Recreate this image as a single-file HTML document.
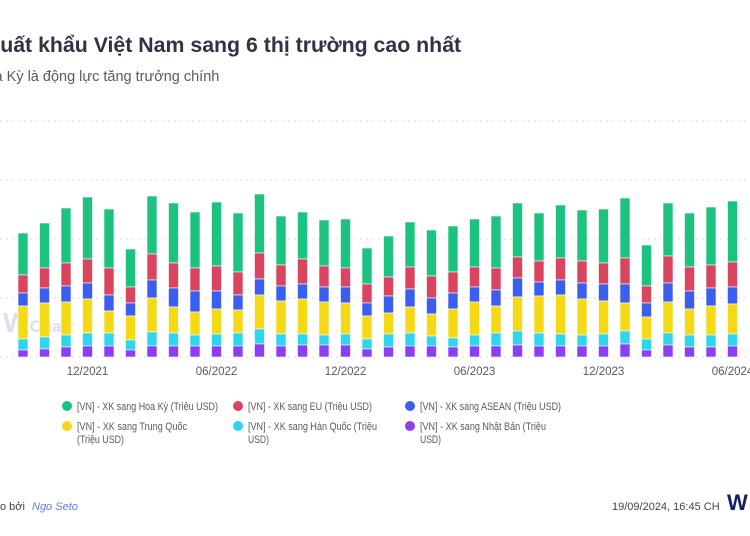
<!DOCTYPE html>
<html><head><meta charset="utf-8">
<style>
html,body{margin:0;padding:0;background:#fff;width:750px;height:536px;overflow:hidden;font-family:"Liberation Sans","Noto Sans CJK SC",sans-serif;}
.t{position:absolute;white-space:nowrap;}
</style></head><body>
<div class="t" style="left:-14px;top:33px;font-size:21.3px;font-weight:bold;color:#2f3343;">Xuất khẩu Việt Nam sang 6 thị trường cao nhất</div>
<div class="t" style="left:-24px;top:69px;font-size:14.5px;color:#555a66;">Hoa Kỳ là động lực tăng trưởng chính</div>
<svg id="c" width="750" height="536" style="position:absolute;left:0;top:0" xmlns="http://www.w3.org/2000/svg"></svg>
<div class="t" style="left:0;top:501px;font-size:11px;color:#444;">o bởi</div>
<div class="t" style="left:32px;top:501px;font-size:11px;color:#5b7cf5;font-style:italic;">Ngo Seto</div>
<div class="t" style="left:612px;top:501px;font-size:11px;color:#444;">19/09/2024, 16:45 CH</div>
<div class="t" style="left:727px;top:490px;font-size:22px;font-weight:bold;color:#16206a;">W</div>
<script>
var d=[
[233,275,293,306,339,350],[223,268,288,303,337,349],[208,263,286,302,335,347],[197,259,283,299,333,346],
[209,268,295,311,333,346],[249,287,303,316,340,350],[196,254,280,298,332,346],[203,263,288,307,333,346],
[212,268,291,312,335,346],[202,266,291,309,334,346],[213,272,295,310,333,346],[194,253,279,295,329,344],
[216,265,286,301,334,346],[212,259,284,299,334,345],[220,266,287,302,335,345],[219,268,287,303,334,345],
[248,284,303,316,339,349],[236,277,296,313,334,347],[222,267,289,307,333,346],[230,276,298,314,336,346],
[226,272,293,309,338,347],[219,267,287,302,335,346],[216,268,290,306,333,346],[203,257,278,297,331,345],
[213,261,282,296,333,346],[205,258,280,295,334,346],[210,261,283,299,335,346],[209,263,284,301,334,346],
[198,258,284,303,331,344],[245,286,303,317,339,350],[203,256,283,302,333,345],[213,267,291,309,335,347],
[207,265,288,306,335,347],[201,262,287,304,334,346]];
var col=["#1cc380","#d9455f","#3a5ef0","#f5d915","#2ed5ee","#8a3ff5"];
var s="";
[121,180,239,298,357].forEach(function(y){s+='<line x1="0" x2="750" y1="'+y+'" y2="'+y+'" stroke="#d8dbe0" stroke-dasharray="2,4"/>';});
s+='<text x="3" y="332" font-size="28" font-weight="bold" fill="#c5cbe0" opacity="0.6" font-family="Liberation Sans">W<tspan font-size="17">Chart</tspan></text>';
d.forEach(function(b,i){var x=23+21.5*i-5;for(var k=0;k<6;k++){var top=b[k],bot=k<5?b[k+1]:357;s+='<rect x="'+x+'" y="'+top+'" width="10" height="'+(bot-top)+'" fill="'+col[k]+'" stroke="#fff" stroke-width="0.6"/>';}});
var lab=["12/2021","06/2022","12/2022","06/2023","12/2023","06/2024"];
lab.forEach(function(l,j){var i=3+6*j;s+='<text x="'+(23+21.5*i)+'" y="375" font-size="11.5" fill="#555a66" text-anchor="middle" font-family="Liberation Sans">'+l+'</text>';});
var lg=[[67,406,0,[["[VN] - XK sang Hoa Kỳ (Triệu USD)",141]]],[238,406,1,[["[VN] - XK sang EU (Triệu USD)",124]]],[410,406,2,[["[VN] - XK sang ASEAN (Triệu USD)",141]]],
[67,426,3,[["[VN] - XK sang Trung Quốc",110],["(Triệu USD)",47]]],[238,426,4,[["[VN] - XK sang Hàn Quốc (Triệu",129],["USD)",21]]],[410,426,5,[["[VN] - XK sang Nhật Bản (Triệu",126],["USD)",21]]]];
lg.forEach(function(g){s+='<circle cx="'+g[0]+'" cy="'+g[1]+'" r="5" fill="'+col[g[2]]+'"/>';g[3].forEach(function(t,k){s+='<text x="'+(g[0]+10)+'" y="'+(g[1]+4+k*13)+'" font-size="11" fill="#555a66" font-family="Liberation Sans" textLength="'+t[1]+'" lengthAdjust="spacingAndGlyphs">'+t[0]+'</text>';});});
document.getElementById("c").innerHTML=s;
</script>
</body></html>
